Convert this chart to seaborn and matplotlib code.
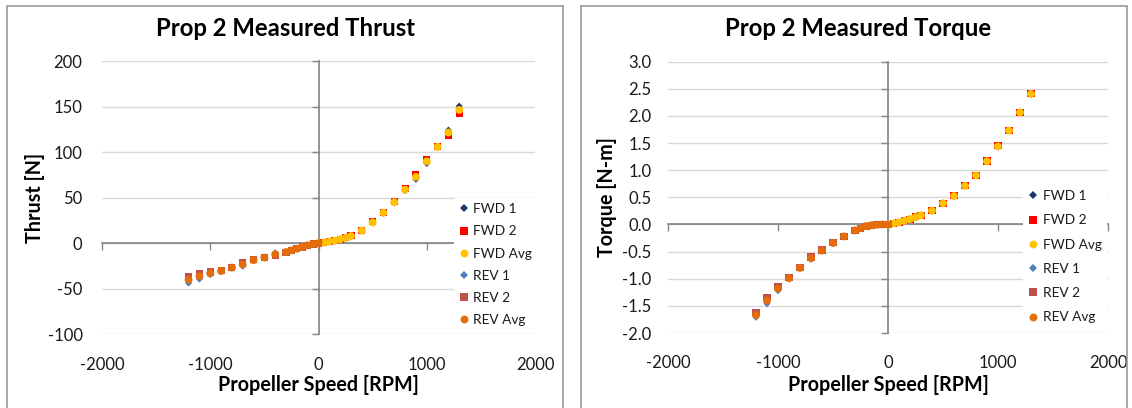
import matplotlib
matplotlib.use("Agg")
import matplotlib.pyplot as plt
import seaborn as sns
import pandas as pd
from matplotlib.patches import Rectangle

# ---------------- data ----------------
fwd_rpm = [0, 50, 100, 150, 200, 250, 300, 400, 500, 600, 700, 800, 900, 1000, 1100, 1200, 1300]
rev_rpm = [-1200, -1100, -1000, -900, -800, -700, -600, -500, -400, -300, -250, -200, -150, -100, -50, 0]

thrust_fwd1 = [0, 0.8, 1.8, 2.8, 4.2, 5.8, 7.6, 13.5, 22.5, 33.0, 44.5, 58.0, 70.5, 87.8, 105.5, 124.4, 150.7]
thrust_fwd2 = [0, 0.9, 2.0, 3.1, 4.6, 6.3, 8.4, 14.5, 23.5, 34.2, 46.0, 60.0, 75.5, 92.5, 106.5, 119.0, 142.6]
thrust_fwd_avg = [0, 0.85, 1.9, 3.0, 4.4, 6.0, 8.0, 14.0, 23.0, 33.6, 45.2, 59.0, 73.0, 90.1, 106.0, 121.7, 146.6]
thrust_rev1 = [-43.7, -39.3, -34.4, -31.0, -27.2, -25.2, -19.0, -16.0, -10.5, -9.4, -7.6, -5.8, -3.9, -2.1, -0.7, 0]
thrust_rev2 = [-36.3, -33.0, -31.5, -29.8, -26.2, -21.5, -18.0, -15.2, -13.5, -9.8, -8.0, -6.2, -4.1, -2.3, -0.8, 0]
thrust_rev_avg = [-40.0, -36.2, -33.0, -30.4, -26.7, -23.3, -18.5, -15.6, -12.0, -9.6, -7.8, -6.0, -4.0, -2.2, -0.75, 0]

torque_fwd1 = [0, 0.02, 0.04, 0.07, 0.10, 0.13, 0.17, 0.25, 0.39, 0.52, 0.71, 0.90, 1.16, 1.43, 1.73, 2.06, 2.40]
torque_fwd2 = [0, 0.02, 0.04, 0.07, 0.10, 0.14, 0.17, 0.26, 0.39, 0.53, 0.71, 0.91, 1.17, 1.45, 1.73, 2.07, 2.41]
torque_fwd_avg = [0, 0.02, 0.04, 0.07, 0.10, 0.135, 0.17, 0.255, 0.39, 0.525, 0.71, 0.905, 1.165, 1.44, 1.73, 2.065, 2.405]
torque_rev1 = [-1.71, -1.46, -1.22, -1.00, -0.81, -0.64, -0.49, -0.34, -0.22, -0.11, -0.07, -0.03, -0.015, -0.005, 0, 0]
torque_rev2 = [-1.63, -1.34, -1.15, -0.98, -0.79, -0.60, -0.47, -0.34, -0.22, -0.11, -0.07, -0.03, -0.015, -0.005, 0, 0]
torque_rev_avg = [-1.67, -1.40, -1.18, -0.99, -0.80, -0.62, -0.48, -0.34, -0.22, -0.11, -0.07, -0.03, -0.015, -0.005, 0, 0]

series_names = ["FWD 1", "FWD 2", "FWD Avg", "REV 1", "REV 2", "REV Avg"]
x_ticks = [-2000, -1000, 0, 1000, 2000]
thrust_ticks = [-100, -50, 0, 50, 100, 150, 200]
torque_ticks = [-2.0, -1.5, -1.0, -0.5, 0.0, 0.5, 1.0, 1.5, 2.0, 2.5, 3.0]

# ---------------- style ----------------
palette = {"FWD 1": "#1F3864", "FWD 2": "#FF0000", "FWD Avg": "#FFC000",
           "REV 1": "#4F81BD", "REV 2": "#C0504D", "REV Avg": "#E46C0A"}
markers = {"FWD 1": "D", "FWD 2": "s", "FWD Avg": "o",
           "REV 1": "D", "REV 2": "s", "REV Avg": "o"}
sizes = {"FWD 1": 13, "FWD 2": 26, "FWD Avg": 32,
         "REV 1": 13, "REV 2": 26, "REV Avg": 32}

sns.set_theme(style="white")
plt.rcParams["font.family"] = ["Lato", "DejaVu Sans"]
plt.rcParams["axes.unicode_minus"] = False

AXIS_GRAY = "#868686"
GRID_GRAY = "#D9D9D9"
TXT = "#1a1a1a"

W, H = 1132, 408
fig = plt.figure(figsize=(W / 100, H / 100), dpi=100)


def px_axes(l, t, r, b):
    return fig.add_axes([l / W, 1 - b / H, (r - l) / W, (b - t) / H])


def make_df(fwd_sets, rev_sets):
    rows = []
    for name, vals in zip(series_names[:3], fwd_sets):
        rows += [(name, r, v) for r, v in zip(fwd_rpm, vals)]
    for name, vals in zip(series_names[3:], rev_sets):
        rows += [(name, r, v) for r, v in zip(rev_rpm, vals)]
    return pd.DataFrame(rows, columns=["series", "rpm", "value"])


def draw_panel(ax, df, yticks, yfmt, box, ylabel, ypad, ylabel_px, leg_anchor, leg_spacing):
    l, t, r, b = box
    sns.scatterplot(data=df, x="rpm", y="value", hue="series", style="series", size="series",
                    hue_order=series_names, style_order=series_names, size_order=series_names,
                    palette=palette, markers=markers, sizes=sizes, linewidth=0, ax=ax, zorder=3)
    ax.set_xlim(-2000, 2000)
    ax.set_ylim(yticks[0], yticks[-1])
    ax.set_xticks(x_ticks)
    ax.set_yticks(yticks)
    ax.set_yticklabels([yfmt.format(v) for v in yticks])
    for s in ax.spines.values():
        s.set_visible(False)
    ax.tick_params(axis="both", length=0, labelsize=12, colors=TXT)
    ax.tick_params(axis="y", pad=ypad)
    ax.tick_params(axis="x", pad=16)
    ax.yaxis.grid(True, color=GRID_GRAY, lw=1.0)
    ax.xaxis.grid(False)
    ax.set_axisbelow(True)

    # zero-crossing axis lines with tick marks (Excel style)
    y0 = (0 - yticks[0]) / (yticks[-1] - yticks[0])
    secx = ax.secondary_xaxis(y0)
    secx.set_xticks(x_ticks)
    secx.tick_params(direction="out", length=5, width=1, color=AXIS_GRAY,
                     labelbottom=False, labeltop=False)
    for s in secx.spines.values():
        s.set_color(AXIS_GRAY)
    secx.set_zorder(0.8)
    secy = ax.secondary_yaxis(0.5)
    secy.set_alignment("left")
    secy.set_yticks(yticks)
    secy.tick_params(direction="out", length=5, width=1, color=AXIS_GRAY,
                     labelleft=False, labelright=False)
    for s in secy.spines.values():
        s.set_color(AXIS_GRAY)
    secy.set_zorder(0.8)

    ax.set_xlabel("Propeller Speed [RPM]", fontsize=14.2, fontweight="bold", color="black")
    ax.xaxis.label.set_va("center")
    ax.xaxis.set_label_coords(0.5, (b - 385) / (b - t))
    ax.set_ylabel(ylabel, fontsize=14.2, fontweight="bold", color="black")
    ax.yaxis.label.set_va("center")
    ax.yaxis.set_label_coords((ylabel_px - l) / (r - l), 0.5)

    sns.move_legend(ax, "center left", bbox_to_anchor=leg_anchor, title=None, frameon=True,
                    fontsize=9.8, labelspacing=leg_spacing, handlelength=0.7,
                    handletextpad=0.35, borderpad=0.4, borderaxespad=0)
    leg = ax.get_legend()
    leg.get_frame().set_facecolor("white")
    leg.get_frame().set_edgecolor("none")
    leg.get_frame().set_alpha(1)
    for txt in leg.get_texts():
        txt.set_color(TXT)


box1 = (102, 61.3, 535, 334.3)
box2 = (668, 61.7, 1108, 333)
ax1 = px_axes(*box1)
ax2 = px_axes(*box2)

df_thrust = make_df([thrust_fwd1, thrust_fwd2, thrust_fwd_avg], [thrust_rev1, thrust_rev2, thrust_rev_avg])
df_torque = make_df([torque_fwd1, torque_fwd2, torque_fwd_avg], [torque_rev1, torque_rev2, torque_rev_avg])

draw_panel(ax1, df_thrust, thrust_ticks, "{:g}", box1, "Thrust [N]",
           14, 35, ((453.7 - 102) / 433, (334.3 - 264.7) / 273), 0.75)
draw_panel(ax2, df_torque, torque_ticks, "{:.1f}", box2, "Torque [N-m]",
           12, 607, ((1022.8 - 668) / 440, (333 - 256.7) / 271.3), 0.9)

fig.text(286 / W, 1 - 29 / H, "Prop 2 Measured Thrust", ha="center", va="center",
         fontsize=17.2, fontweight="bold", color="black")
fig.text(858 / W, 1 - 29 / H, "Prop 2 Measured Torque", ha="center", va="center",
         fontsize=17.2, fontweight="bold", color="black")

for x0, x1 in [(7, 563), (580.5, 1127)]:
    fig.add_artist(Rectangle((x0 / W, -0.1), (x1 - x0) / W, 1 - 6 / H + 0.1, fill=False,
                             edgecolor="#9A9A9A", lw=1.2, transform=fig.transFigure, clip_on=False))

fig.savefig("out.png", dpi=100)
